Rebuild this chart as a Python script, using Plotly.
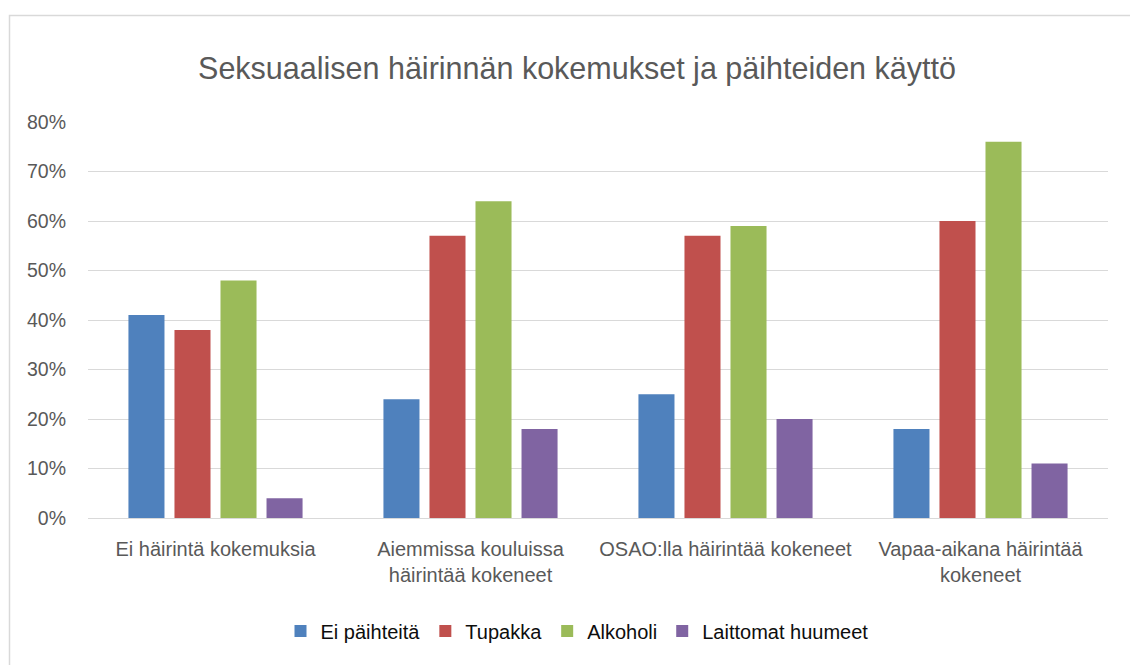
import plotly.graph_objects as go

categories = ["Ei häirintä kokemuksia",
              "Aiemmissa kouluissa<br>häirintää kokeneet",
              "OSAO:lla häirintää kokeneet",
              "Vapaa-aikana häirintää<br>kokeneet"]
series_names = ["Ei päihteitä", "Tupakka", "Alkoholi", "Laittomat huumeet"]
ei_paihteita = [0.41, 0.24, 0.25, 0.18]
tupakka = [0.38, 0.57, 0.57, 0.60]
alkoholi = [0.48, 0.64, 0.59, 0.76]
huumeet = [0.04, 0.18, 0.20, 0.11]
tick_vals = [0, 0.1, 0.2, 0.3, 0.4, 0.5, 0.6, 0.7, 0.8]

colors = ["#4F81BD", "#C0504D", "#9BBB59", "#8064A2"]
values = [ei_paihteita, tupakka, alkoholi, huumeet]

W, H = 1130, 665
L, R, T, B = 88, 22, 122, 665 - 518
pw, ph = W - L - R, H - T - B

fig = go.Figure()
for name, vals, c in zip(series_names, values, colors):
    fig.add_trace(go.Bar(name=name, x=categories, y=vals, marker_color=c,
                         marker_line_width=0))

def px_x(x):
    return (x - L) / pw

def px_y(y):
    return (H - B - y) / ph

fig.update_layout(
    width=W, height=H,
    margin=dict(l=L, r=R, t=T, b=B, autoexpand=False),
    paper_bgcolor="white", plot_bgcolor="white",
    font=dict(family="Liberation Sans, Arial, sans-serif", size=20, color="#595959"),
    title=dict(text="Seksuaalisen häirinnän kokemukset ja päihteiden käyttö",
               x=577 / W, xref="container", xanchor="center",
               y=1 - 68 / H, yref="container", yanchor="middle",
               font=dict(size=30.5, color="#595959")),
    barmode="group", bargap=0.278, bargroupgap=0.217,
    showlegend=True,
    legend=dict(orientation="h", xref="container", yref="container",
                x=577 / W, xanchor="center", y=1 - 631 / H,
                yanchor="middle",
                font=dict(size=20, color="#0d0d0d"), itemwidth=30,
                traceorder="normal"),
    shapes=[dict(type="rect", xref="paper", yref="paper",
                 x0=px_x(9.5), x1=px_x(1150), y0=px_y(690), y1=px_y(15.5),
                 line=dict(color="#d9d9d9", width=1.5), fillcolor="rgba(0,0,0,0)",
                 layer="below")],
)
fig.update_yaxes(range=[0, 0.8], tickvals=tick_vals, tickformat=".0%",
                 showgrid=True, gridcolor="#d9d9d9", gridwidth=1.3,
                 zeroline=False, showline=False, ticks="",
                 ticklabelstandoff=21, tickfont=dict(size=19.5, color="#595959"))
fig.update_xaxes(showline=True, linecolor="#d9d9d9", linewidth=1.3, ticks="",
                 showgrid=False, tickfont=dict(size=20, color="#595959"),
                 ticklabelstandoff=13)

fig.write_html("out.html",
               config={"displayModeBar": False},
               post_script="document.body.style.margin='0';"
                           "document.body.style.overflow='hidden';")
